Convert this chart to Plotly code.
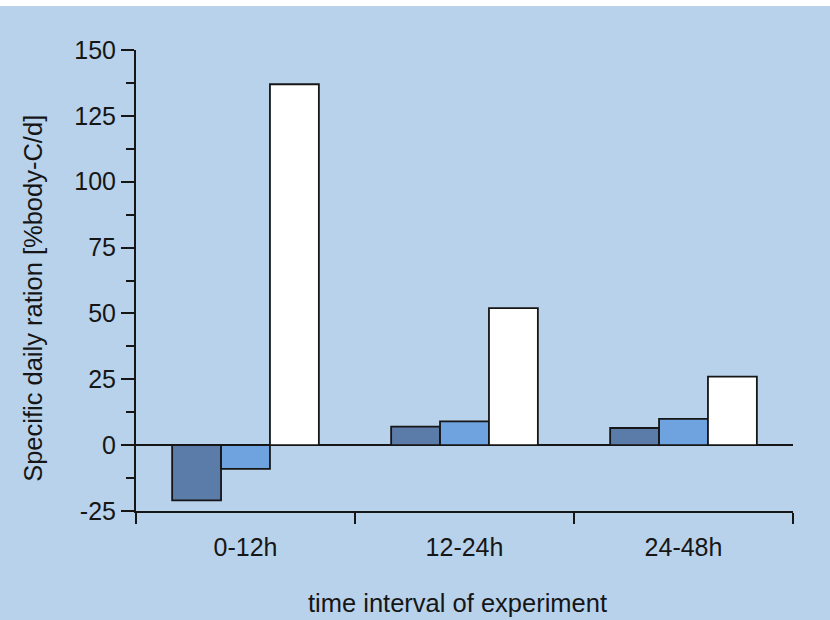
import plotly.graph_objects as go

# Feeding experiment: specific daily ration per time interval
intervals = ["0-12h", "12-24h", "24-48h"]
series_dark = [-21, 7, 6.5]
series_mid = [-9, 9, 10]
series_white = [137, 52, 26]

y_ticks = [-25, 0, 25, 50, 75, 100, 125, 150]

BG = "#b9d2eb"
FONT = "Liberation Sans, Arial, Helvetica, sans-serif"
INK = "#161616"

fig = go.Figure()
for vals, color in [(series_dark, "#5b7ca8"), (series_mid, "#6ea3e0"), (series_white, "#ffffff")]:
    fig.add_trace(go.Bar(
        x=intervals, y=vals,
        marker=dict(color=color, line=dict(color=INK, width=1.8)),
        showlegend=False, hoverinfo="skip",
    ))

fig.update_layout(
    width=830, height=620,
    margin=dict(l=136, r=37, t=50, b=109),
    paper_bgcolor=BG, plot_bgcolor=BG,
    barmode="group", bargap=0.33, bargroupgap=0,
    font=dict(family=FONT, size=25, color=INK),
    shapes=[dict(type="rect", xref="paper", yref="paper",
                 x0=-0.3, x1=1.1, y0=1 + 44 / 461, y1=1.2,
                 fillcolor="white", line=dict(width=0), layer="below")],
    annotations=[
        dict(text="Specific daily ration [%body-C/d]", textangle=-90,
             xref="paper", yref="paper", x=-0.157, y=0.462,
             xanchor="center", yanchor="middle", showarrow=False,
             font=dict(size=25.5)),
        dict(text="time interval of experiment",
             xref="paper", yref="paper", x=0.490, y=-0.1996,
             xanchor="center", yanchor="middle", showarrow=False,
             font=dict(size=25.5)),
    ],
)

fig.update_xaxes(
    range=[-0.5, 2.5], showgrid=False, automargin=False,
    showline=True, linecolor=INK, linewidth=2,
    ticks="outside", tickson="boundaries", ticklen=11, tickwidth=2, tickcolor=INK,
    tickfont=dict(size=25), ticklabelstandoff=13,
)
fig.update_yaxes(
    range=[-25, 150], showgrid=False, automargin=False,
    tickvals=y_ticks, ticktext=[str(v) for v in y_ticks],
    showline=True, linecolor=INK, linewidth=2,
    ticks="outside", ticklen=13, tickwidth=2, tickcolor=INK,
    minor=dict(ticks="outside", ticklen=8, tickwidth=2, tickcolor=INK, dtick=12.5, tick0=0),
    zeroline=True, zerolinecolor=INK, zerolinewidth=2,
    tickfont=dict(size=25),
)

fig.write_html("out.html")
